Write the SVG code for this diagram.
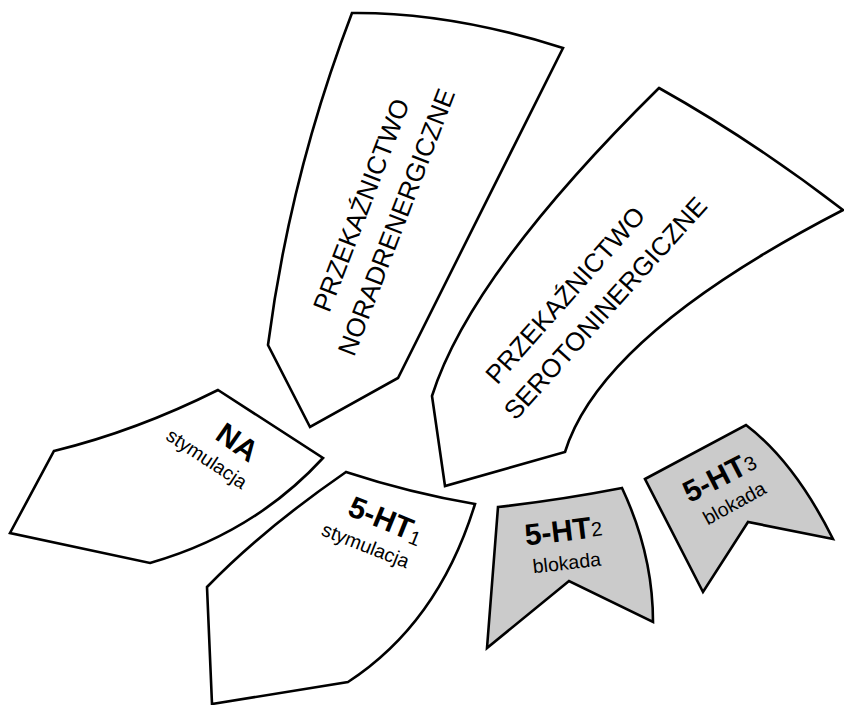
<svg xmlns="http://www.w3.org/2000/svg" width="844" height="705" viewBox="0 0 844 705">
<style>
.sh{fill:#fff;stroke:#000;stroke-width:2.6;stroke-linejoin:miter}
.gr{fill:#cbcbcb}
.big{font-family:"Liberation Sans",Arial,sans-serif;font-size:26px;fill:#000}
.bold{font-family:"Liberation Sans",Arial,sans-serif;font-size:30px;font-weight:bold;fill:#000}
.sub{font-size:20px;font-weight:normal}
.small{font-family:"Liberation Sans",Arial,sans-serif;font-size:19.5px;fill:#000}
</style>
<rect width="844" height="705" fill="#fff"/>
<g id="noradrenergiczne">
<path class="sh" d="M352,13 Q450,12 563,48 L398,378 L310,427 L268,345 Q290,175 352,13 Z"/>
<text class="big" text-anchor="middle" transform="translate(369.7,208.4) rotate(-69)">PRZEKAŹNICTWO</text>
<text class="big" text-anchor="middle" transform="translate(404.7,225.3) rotate(-69)">NORADRENERGICZNE</text>
</g>
<g id="serotoninergiczne">
<path class="sh" d="M659,88 Q752,140 843,210 Q601,335 565,452 L445,486 L432,396 Q470.5,274 659,88 Z"/>
<text class="big" text-anchor="middle" transform="translate(572,301) rotate(-48.5)">PRZEKAŹNICTWO</text>
<text class="big" text-anchor="middle" transform="translate(612,314) rotate(-48)">SEROTONINERGICZNE</text>
</g>
<g id="na">
<path class="sh" d="M218,390 L323,458 Q253.5,533.5 150,563 L10,533 L54,451 Q136,431 218,390 Z"/>
<text class="bold" text-anchor="middle" transform="translate(231.4,450.8) rotate(35)">NA</text>
<text class="small" text-anchor="middle" transform="translate(203.2,464.2) rotate(33.5)">stymulacja</text>
</g>
<g id="ht1">
<path class="sh" d="M346,472 Q410,493 475,504 Q438.5,623 348,682 L212,704 L207,587 Q262,530 346,472 Z"/>
<text class="bold" transform="translate(346.3,514.8) rotate(22)">5-HT<tspan class="sub" dy="3">1</tspan></text>
<text class="small" text-anchor="middle" transform="translate(363.2,551.7) rotate(21.5)">stymulacja</text>
</g>
<g id="ht2">
<path class="sh gr" d="M498,507 Q560,500 622,488 Q653,554 653,622 L569,581 L487,648 L498,507 Z"/>
<text class="bold" transform="translate(526,545.6) rotate(-6.9)">5-HT<tspan class="sub" dy="-1">2</tspan></text>
<text class="small" text-anchor="middle" transform="translate(567.5,569.5) rotate(-6.5)">blokada</text>
</g>
<g id="ht3">
<path class="sh gr" d="M645,479 L746,425 Q794.5,462 833,539 L748,522 L703,592 L645,479 Z"/>
<text class="bold" transform="translate(689.5,503.3) rotate(-27)">5-HT<tspan class="sub" dy="-1">3</tspan></text>
<text class="small" text-anchor="middle" transform="translate(737.5,509) rotate(-29)">blokada</text>
</g>
<g id="connectors"></g>
</svg>
